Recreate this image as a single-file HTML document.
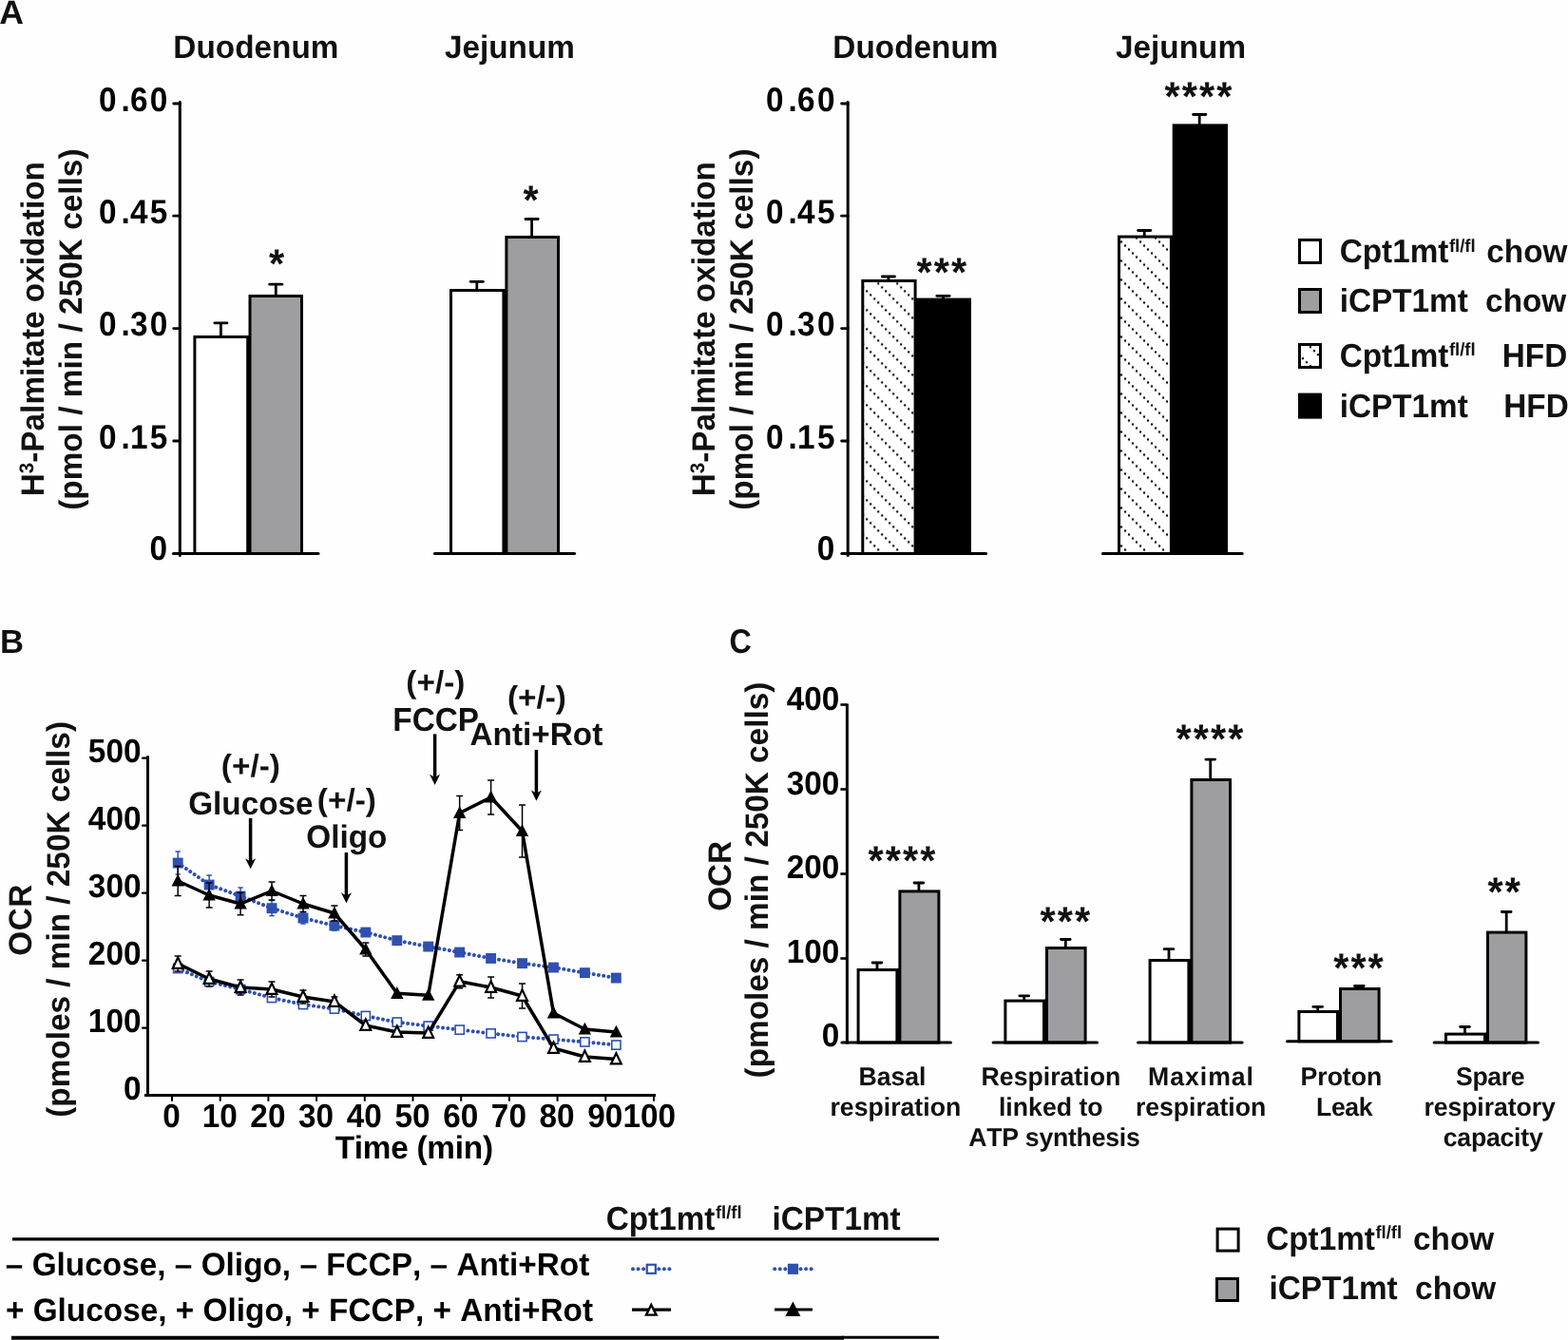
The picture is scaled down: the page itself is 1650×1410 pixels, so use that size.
<!DOCTYPE html>
<html lang="en"><head><meta charset="utf-8"><title>Figure</title>
<style>
html,body{margin:0;padding:0;background:#fefefe;}
body{width:1650px;height:1410px;overflow:hidden;}
svg{display:block;font-family:"Liberation Sans",sans-serif;font-weight:bold;font-kerning:none;font-variant-ligatures:none;text-rendering:geometricPrecision;}
</style></head><body>
<svg width="1650" height="1410" viewBox="0 0 1650 1410">
<rect width="1650" height="1410" fill="#fefefe"/>
<text transform="translate(-0.79 24.60) scale(1.07 1.06)" font-size="33.33" text-anchor="start" fill="#111" >A</text>
<text transform="translate(-0.12 687.00) scale(1.04 1.05)" font-size="33.33" text-anchor="start" fill="#111" >B</text>
<text transform="translate(767.57 687.10) scale(0.97 1.08)" font-size="33.33" text-anchor="start" fill="#111" >C</text>
<text transform="translate(182.37 61.00) scale(1 1.02)" font-size="33.33" text-anchor="start" fill="#111" >Duodenum</text>
<text transform="translate(467.90 61.00) scale(1 1.02)" font-size="33.33" text-anchor="start" fill="#111" >Jejunum</text>
<text transform="translate(876.37 61.00) scale(1 1.02)" font-size="33.33" text-anchor="start" fill="#111" >Duodenum</text>
<text transform="translate(1174.00 61.00) scale(1 1.02)" font-size="33.33" text-anchor="start" fill="#111" >Jejunum</text>
<rect x="204.90" y="354.50" width="55.80" height="228.00" fill="#fff" stroke="#000" stroke-width="3.0" stroke-linejoin="miter"/>
<rect x="263.00" y="311.50" width="54.50" height="271.00" fill="#9e9ea0" stroke="#000" stroke-width="3.0" stroke-linejoin="miter"/>
<rect x="474.50" y="305.50" width="55.40" height="277.00" fill="#fff" stroke="#000" stroke-width="3.0" stroke-linejoin="miter"/>
<rect x="532.90" y="249.50" width="54.60" height="333.00" fill="#9e9ea0" stroke="#000" stroke-width="3.0" stroke-linejoin="miter"/>
<line x1="262.20" y1="353.00" x2="262.20" y2="582.50" stroke="#000" stroke-width="1.2" stroke-linecap="butt" />
<line x1="531.40" y1="304.00" x2="531.40" y2="582.50" stroke="#000" stroke-width="1.2" stroke-linecap="butt" />
<line x1="232.40" y1="339.80" x2="232.40" y2="354.00" stroke="#000" stroke-width="2.8" stroke-linecap="butt" />
<line x1="225.80" y1="339.80" x2="239.00" y2="339.80" stroke="#000" stroke-width="2.8" stroke-linecap="round" />
<line x1="290.30" y1="299.20" x2="290.30" y2="311.00" stroke="#000" stroke-width="2.8" stroke-linecap="butt" />
<line x1="283.70" y1="299.20" x2="296.90" y2="299.20" stroke="#000" stroke-width="2.8" stroke-linecap="round" />
<line x1="501.80" y1="296.30" x2="501.80" y2="305.00" stroke="#000" stroke-width="2.8" stroke-linecap="butt" />
<line x1="495.20" y1="296.30" x2="508.40" y2="296.30" stroke="#000" stroke-width="2.8" stroke-linecap="round" />
<line x1="559.60" y1="230.50" x2="559.60" y2="249.00" stroke="#000" stroke-width="2.8" stroke-linecap="butt" />
<line x1="553.00" y1="230.50" x2="566.20" y2="230.50" stroke="#000" stroke-width="2.8" stroke-linecap="round" />
<line x1="189.30" y1="107.60" x2="189.30" y2="584.60" stroke="#000" stroke-width="3" stroke-linecap="round" />
<line x1="182.70" y1="109.00" x2="189.30" y2="109.00" stroke="#000" stroke-width="2.8" stroke-linecap="round" />
<line x1="182.70" y1="227.20" x2="189.30" y2="227.20" stroke="#000" stroke-width="2.8" stroke-linecap="round" />
<line x1="182.70" y1="345.60" x2="189.30" y2="345.60" stroke="#000" stroke-width="2.8" stroke-linecap="round" />
<line x1="182.70" y1="464.00" x2="189.30" y2="464.00" stroke="#000" stroke-width="2.8" stroke-linecap="round" />
<line x1="182.40" y1="582.50" x2="335.00" y2="582.50" stroke="#000" stroke-width="3" stroke-linecap="round" />
<line x1="457.40" y1="582.50" x2="604.60" y2="582.50" stroke="#000" stroke-width="3" stroke-linecap="round" />
<text transform="translate(103.88 116.60) scale(1 1.07)" font-size="33.33" text-anchor="start" fill="#000" dx="0 5 0.3 2.3">0.60</text>
<text transform="translate(103.88 234.80) scale(1 1.07)" font-size="33.33" text-anchor="start" fill="#000" dx="0 5 0.3 2.3">0.45</text>
<text transform="translate(103.88 353.20) scale(1 1.07)" font-size="33.33" text-anchor="start" fill="#000" dx="0 5 0.3 2.3">0.30</text>
<text transform="translate(103.88 471.60) scale(1 1.07)" font-size="33.33" text-anchor="start" fill="#000" dx="0 5 0.3 2.3">0.15</text>
<text transform="translate(176.17 589.40) scale(1 1.07)" font-size="33.33" text-anchor="end" fill="#000" >0</text>
<text transform="translate(46.00 522.23) rotate(-90) scale(1 1.02)" font-size="33.33" fill="#111" >H<tspan font-size="20.5" dy="-11.2">3</tspan><tspan dy="11.2">-Palmitate oxidation</tspan></text>
<text transform="translate(86.40 536.86) rotate(-90) scale(1 1.02)" font-size="33.33" fill="#111" letter-spacing="0.03">(pmol / min / 250K cells)</text>
<defs><pattern id="hat1" x="910.20" y="304.40" width="20" height="20" patternUnits="userSpaceOnUse"><g fill="#000"><circle cx="2" cy="2" r="1.2"/><circle cx="6" cy="6" r="1.2"/><circle cx="10" cy="10" r="1.2"/><circle cx="14" cy="14" r="1.2"/><circle cx="18" cy="18" r="1.2"/></g></pattern></defs>
<defs><pattern id="hat2" x="1182.03" y="256.50" width="20" height="20" patternUnits="userSpaceOnUse"><g fill="#000"><circle cx="2" cy="2" r="1.2"/><circle cx="6" cy="6" r="1.2"/><circle cx="10" cy="10" r="1.2"/><circle cx="14" cy="14" r="1.2"/><circle cx="18" cy="18" r="1.2"/></g></pattern></defs>
<rect x="907.80" y="295.50" width="55.30" height="287.00" fill="#fff"/>
<rect x="907.80" y="295.50" width="55.30" height="287.00" fill="url(#hat1)" stroke="#000" stroke-width="3.0"/>
<rect x="963.5" y="313.6" width="58.5" height="268.90" fill="#000"/>
<rect x="1177.50" y="249.10" width="54.90" height="333.40" fill="#fff"/>
<rect x="1177.50" y="249.10" width="54.90" height="333.40" fill="url(#hat2)" stroke="#000" stroke-width="3.0"/>
<rect x="1233.7" y="130.4" width="58.3" height="452.10" fill="#000"/>
<rect x="1232" y="249" width="3" height="333.50" fill="#000"/>
<line x1="934.90" y1="291.00" x2="934.90" y2="295.00" stroke="#000" stroke-width="2.8" stroke-linecap="butt" />
<line x1="928.30" y1="291.00" x2="941.50" y2="291.00" stroke="#000" stroke-width="2.8" stroke-linecap="round" />
<line x1="992.50" y1="311.30" x2="992.50" y2="314.50" stroke="#000" stroke-width="2.8" stroke-linecap="butt" />
<line x1="985.90" y1="311.30" x2="999.10" y2="311.30" stroke="#000" stroke-width="2.8" stroke-linecap="round" />
<line x1="1204.20" y1="242.50" x2="1204.20" y2="248.60" stroke="#000" stroke-width="2.8" stroke-linecap="butt" />
<line x1="1197.60" y1="242.50" x2="1210.80" y2="242.50" stroke="#000" stroke-width="2.8" stroke-linecap="round" />
<line x1="1262.20" y1="120.50" x2="1262.20" y2="131.40" stroke="#000" stroke-width="2.8" stroke-linecap="butt" />
<line x1="1255.60" y1="120.50" x2="1268.80" y2="120.50" stroke="#000" stroke-width="2.8" stroke-linecap="round" />
<line x1="892.20" y1="107.60" x2="892.20" y2="584.60" stroke="#000" stroke-width="3" stroke-linecap="round" />
<line x1="885.60" y1="109.00" x2="892.20" y2="109.00" stroke="#000" stroke-width="2.8" stroke-linecap="round" />
<line x1="885.60" y1="227.20" x2="892.20" y2="227.20" stroke="#000" stroke-width="2.8" stroke-linecap="round" />
<line x1="885.60" y1="345.60" x2="892.20" y2="345.60" stroke="#000" stroke-width="2.8" stroke-linecap="round" />
<line x1="885.60" y1="464.00" x2="892.20" y2="464.00" stroke="#000" stroke-width="2.8" stroke-linecap="round" />
<line x1="885.80" y1="582.50" x2="1037.60" y2="582.50" stroke="#000" stroke-width="3" stroke-linecap="round" />
<line x1="1160.40" y1="582.50" x2="1307.20" y2="582.50" stroke="#000" stroke-width="3" stroke-linecap="round" />
<text transform="translate(805.98 116.60) scale(1 1.07)" font-size="33.33" text-anchor="start" fill="#000" dx="0 5 0.3 2.3">0.60</text>
<text transform="translate(805.98 234.80) scale(1 1.07)" font-size="33.33" text-anchor="start" fill="#000" dx="0 5 0.3 2.3">0.45</text>
<text transform="translate(805.98 353.20) scale(1 1.07)" font-size="33.33" text-anchor="start" fill="#000" dx="0 5 0.3 2.3">0.30</text>
<text transform="translate(805.98 471.60) scale(1 1.07)" font-size="33.33" text-anchor="start" fill="#000" dx="0 5 0.3 2.3">0.15</text>
<text transform="translate(878.27 589.40) scale(1 1.07)" font-size="33.33" text-anchor="end" fill="#000" >0</text>
<text transform="translate(752.00 522.23) rotate(-90) scale(1 1.02)" font-size="33.33" fill="#111" >H<tspan font-size="20.5" dy="-11.2">3</tspan><tspan dy="11.2">-Palmitate oxidation</tspan></text>
<text transform="translate(791.60 536.86) rotate(-90) scale(1 1.02)" font-size="33.33" fill="#111" letter-spacing="0.03">(pmol / min / 250K cells)</text>
<text transform="translate(282.88 291.80) scale(1 1.036)" font-size="41.50" text-anchor="start" fill="#111" letter-spacing="2.05">*</text>
<text transform="translate(550.58 224.70) scale(1 1.036)" font-size="41.50" text-anchor="start" fill="#111" letter-spacing="2.05">*</text>
<text transform="translate(964.58 300.70) scale(1 1.036)" font-size="41.50" text-anchor="start" fill="#111" letter-spacing="2.05">***</text>
<text transform="translate(1225.58 115.70) scale(1 1.036)" font-size="41.50" text-anchor="start" fill="#111" letter-spacing="2.05">****</text>
<rect x="1367.50" y="252.50" width="22.00" height="24.00" fill="#fff" stroke="#000" stroke-width="3"/>
<rect x="1367.50" y="304.50" width="22.00" height="24.00" fill="#9e9ea0" stroke="#000" stroke-width="3"/>
<rect x="1367.40" y="362.50" width="22.00" height="24.00" fill="#fff" stroke="#000" stroke-width="2.8"/>
<defs><pattern id="hat3" x="1376.90" y="363.20" width="20" height="20" patternUnits="userSpaceOnUse"><g fill="#000"><circle cx="2" cy="2" r="1.2"/><circle cx="6" cy="6" r="1.2"/><circle cx="10" cy="10" r="1.2"/><circle cx="14" cy="14" r="1.2"/><circle cx="18" cy="18" r="1.2"/></g></pattern></defs>
<rect x="1367.4" y="362.5" width="22" height="24" fill="url(#hat3)" stroke="#000" stroke-width="2.8"/>
<rect x="1366" y="413.6" width="25" height="27" fill="#000"/>
<text transform="translate(1409.63 276.40) scale(1 1.04)" font-size="33.33" text-anchor="start" fill="#111" >Cpt1mt</text>
<text transform="translate(1524.88 264.80) scale(1 1.02)" font-size="18.50" text-anchor="start" fill="#111" >fl/fl</text>
<text transform="translate(1564.30 276.40) scale(1 1.02)" font-size="33.33" text-anchor="start" fill="#111" >chow</text>
<text transform="translate(1409.67 328.40) scale(1 1.04)" font-size="33.33" text-anchor="start" fill="#111" >iCPT1mt</text>
<text transform="translate(1563.10 328.40) scale(1 1.02)" font-size="33.33" text-anchor="start" fill="#111" >chow</text>
<text transform="translate(1409.63 386.00) scale(1 1.04)" font-size="33.33" text-anchor="start" fill="#111" >Cpt1mt</text>
<text transform="translate(1524.88 374.40) scale(1 1.02)" font-size="18.50" text-anchor="start" fill="#111" >fl/fl</text>
<text transform="translate(1580.77 386.00) scale(1 1.045)" font-size="33.33" text-anchor="start" fill="#111" >HFD</text>
<text transform="translate(1409.67 439.00) scale(1 1.04)" font-size="33.33" text-anchor="start" fill="#111" >iCPT1mt</text>
<text transform="translate(1582.27 439.00) scale(1 1.045)" font-size="33.33" text-anchor="start" fill="#111" >HFD</text>
<line x1="155.50" y1="795.20" x2="155.50" y2="1154.00" stroke="#000" stroke-width="3" stroke-linecap="butt" />
<line x1="150.00" y1="1081.70" x2="155.50" y2="1081.70" stroke="#000" stroke-width="2.2" stroke-linecap="round" />
<line x1="150.00" y1="1010.70" x2="155.50" y2="1010.70" stroke="#000" stroke-width="2.2" stroke-linecap="round" />
<line x1="150.00" y1="939.70" x2="155.50" y2="939.70" stroke="#000" stroke-width="2.2" stroke-linecap="round" />
<line x1="150.00" y1="868.70" x2="155.50" y2="868.70" stroke="#000" stroke-width="2.2" stroke-linecap="round" />
<line x1="150.00" y1="797.70" x2="155.50" y2="797.70" stroke="#000" stroke-width="2.2" stroke-linecap="round" />
<line x1="152.00" y1="1152.50" x2="690.00" y2="1152.50" stroke="#000" stroke-width="3" stroke-linecap="butt" />
<line x1="181.00" y1="1153.00" x2="181.00" y2="1158.80" stroke="#000" stroke-width="2.0" stroke-linecap="butt" />
<line x1="231.70" y1="1153.00" x2="231.70" y2="1158.80" stroke="#000" stroke-width="2.0" stroke-linecap="butt" />
<line x1="282.40" y1="1153.00" x2="282.40" y2="1158.80" stroke="#000" stroke-width="2.0" stroke-linecap="butt" />
<line x1="333.10" y1="1153.00" x2="333.10" y2="1158.80" stroke="#000" stroke-width="2.0" stroke-linecap="butt" />
<line x1="383.80" y1="1153.00" x2="383.80" y2="1158.80" stroke="#000" stroke-width="2.0" stroke-linecap="butt" />
<line x1="434.50" y1="1153.00" x2="434.50" y2="1158.80" stroke="#000" stroke-width="2.0" stroke-linecap="butt" />
<line x1="485.20" y1="1153.00" x2="485.20" y2="1158.80" stroke="#000" stroke-width="2.0" stroke-linecap="butt" />
<line x1="535.90" y1="1153.00" x2="535.90" y2="1158.80" stroke="#000" stroke-width="2.0" stroke-linecap="butt" />
<line x1="586.60" y1="1153.00" x2="586.60" y2="1158.80" stroke="#000" stroke-width="2.0" stroke-linecap="butt" />
<line x1="637.30" y1="1153.00" x2="637.30" y2="1158.80" stroke="#000" stroke-width="2.0" stroke-linecap="butt" />
<line x1="688.00" y1="1153.00" x2="688.00" y2="1158.80" stroke="#000" stroke-width="2.0" stroke-linecap="butt" />
<text transform="translate(148.47 1086.20) scale(1 1.045)" font-size="33.33" text-anchor="end" fill="#000" >100</text>
<text transform="translate(148.47 1015.20) scale(1 1.045)" font-size="33.33" text-anchor="end" fill="#000" >200</text>
<text transform="translate(148.47 944.20) scale(1 1.045)" font-size="33.33" text-anchor="end" fill="#000" >300</text>
<text transform="translate(148.47 873.20) scale(1 1.045)" font-size="33.33" text-anchor="end" fill="#000" >400</text>
<text transform="translate(148.47 802.20) scale(1 1.045)" font-size="33.33" text-anchor="end" fill="#000" >500</text>
<text transform="translate(148.57 1156.90) scale(1 1.045)" font-size="33.33" text-anchor="end" fill="#000" >0</text>
<text transform="translate(180.50 1186.00) scale(1 1.045)" font-size="33.33" text-anchor="middle" fill="#000" >0</text>
<text transform="translate(231.20 1186.00) scale(1 1.045)" font-size="33.33" text-anchor="middle" fill="#000" >10</text>
<text transform="translate(281.90 1186.00) scale(1 1.045)" font-size="33.33" text-anchor="middle" fill="#000" >20</text>
<text transform="translate(332.60 1186.00) scale(1 1.045)" font-size="33.33" text-anchor="middle" fill="#000" >30</text>
<text transform="translate(383.30 1186.00) scale(1 1.045)" font-size="33.33" text-anchor="middle" fill="#000" >40</text>
<text transform="translate(434.00 1186.00) scale(1 1.045)" font-size="33.33" text-anchor="middle" fill="#000" >50</text>
<text transform="translate(484.70 1186.00) scale(1 1.045)" font-size="33.33" text-anchor="middle" fill="#000" >60</text>
<text transform="translate(535.40 1186.00) scale(1 1.045)" font-size="33.33" text-anchor="middle" fill="#000" >70</text>
<text transform="translate(586.10 1186.00) scale(1 1.045)" font-size="33.33" text-anchor="middle" fill="#000" >80</text>
<text transform="translate(636.80 1186.00) scale(1 1.045)" font-size="33.33" text-anchor="middle" fill="#000" >90</text>
<text transform="translate(655.50 1186.00) scale(1 1.045)" font-size="33.33" text-anchor="start" fill="#000" >100</text>
<text transform="translate(352.63 1219.00) scale(1 1.02)" font-size="33.33" text-anchor="start" fill="#000" textLength="166.4" lengthAdjust="spacing">Time (min)</text>
<text transform="translate(33.00 1005.87) rotate(-90) scale(1 1.02)" font-size="33.33" fill="#111" letter-spacing="0.6">OCR</text>
<text transform="translate(73.40 1175.76) rotate(-90) scale(1 1.02)" font-size="33.33" fill="#111" >(pmoles / min / 250K cells)</text>
<polyline points="187.2,1019.0 220.1,1033.0 253.1,1041.0 286.0,1050.0 319.0,1057.0 351.9,1061.6 384.8,1069.0 417.8,1075.6 450.7,1079.6 483.7,1083.6 516.6,1087.4 549.5,1091.0 582.5,1093.6 615.4,1096.4 648.4,1099.6" fill="none" stroke="#2f50b0" stroke-width="4" stroke-linecap="round" stroke-dasharray="0.01 5.3"/>
<rect x="182.6" y="1014.4" width="9.2" height="9.2" fill="#fff" stroke="#2f50b0" stroke-width="1.6"/>
<rect x="215.5" y="1028.4" width="9.2" height="9.2" fill="#fff" stroke="#2f50b0" stroke-width="1.6"/>
<rect x="248.5" y="1036.4" width="9.2" height="9.2" fill="#fff" stroke="#2f50b0" stroke-width="1.6"/>
<rect x="281.4" y="1045.4" width="9.2" height="9.2" fill="#fff" stroke="#2f50b0" stroke-width="1.6"/>
<rect x="314.4" y="1052.4" width="9.2" height="9.2" fill="#fff" stroke="#2f50b0" stroke-width="1.6"/>
<rect x="347.3" y="1057.0" width="9.2" height="9.2" fill="#fff" stroke="#2f50b0" stroke-width="1.6"/>
<rect x="380.2" y="1064.4" width="9.2" height="9.2" fill="#fff" stroke="#2f50b0" stroke-width="1.6"/>
<rect x="413.2" y="1071.0" width="9.2" height="9.2" fill="#fff" stroke="#2f50b0" stroke-width="1.6"/>
<rect x="446.1" y="1075.0" width="9.2" height="9.2" fill="#fff" stroke="#2f50b0" stroke-width="1.6"/>
<rect x="479.1" y="1079.0" width="9.2" height="9.2" fill="#fff" stroke="#2f50b0" stroke-width="1.6"/>
<rect x="512.0" y="1082.8" width="9.2" height="9.2" fill="#fff" stroke="#2f50b0" stroke-width="1.6"/>
<rect x="544.9" y="1086.4" width="9.2" height="9.2" fill="#fff" stroke="#2f50b0" stroke-width="1.6"/>
<rect x="577.9" y="1089.0" width="9.2" height="9.2" fill="#fff" stroke="#2f50b0" stroke-width="1.6"/>
<rect x="610.8" y="1091.8" width="9.2" height="9.2" fill="#fff" stroke="#2f50b0" stroke-width="1.6"/>
<rect x="643.8" y="1095.0" width="9.2" height="9.2" fill="#fff" stroke="#2f50b0" stroke-width="1.6"/>
<polyline points="187.2,908.0 220.1,931.0 253.1,943.0 286.0,955.6 319.0,966.0 351.9,974.0 384.8,981.0 417.8,989.6 450.7,996.0 483.7,1002.0 516.6,1008.4 549.5,1013.6 582.5,1018.0 615.4,1023.6 648.4,1029.0" fill="none" stroke="#2f50b0" stroke-width="4" stroke-linecap="round" stroke-dasharray="0.01 5.3"/>
<line x1="187.20" y1="896.00" x2="187.20" y2="920.00" stroke="#2f50b0" stroke-width="1.5" stroke-linecap="butt" />
<line x1="184.50" y1="896.00" x2="189.90" y2="896.00" stroke="#2f50b0" stroke-width="1.5" stroke-linecap="butt" />
<line x1="184.50" y1="920.00" x2="189.90" y2="920.00" stroke="#2f50b0" stroke-width="1.5" stroke-linecap="butt" />
<rect x="181.75" y="902.60" width="10.9" height="10.9" fill="#2f50b0"/>
<line x1="220.14" y1="921.00" x2="220.14" y2="941.00" stroke="#2f50b0" stroke-width="1.5" stroke-linecap="butt" />
<line x1="217.44" y1="921.00" x2="222.84" y2="921.00" stroke="#2f50b0" stroke-width="1.5" stroke-linecap="butt" />
<line x1="217.44" y1="941.00" x2="222.84" y2="941.00" stroke="#2f50b0" stroke-width="1.5" stroke-linecap="butt" />
<rect x="214.69" y="925.60" width="10.9" height="10.9" fill="#2f50b0"/>
<line x1="253.08" y1="934.00" x2="253.08" y2="952.00" stroke="#2f50b0" stroke-width="1.5" stroke-linecap="butt" />
<line x1="250.38" y1="934.00" x2="255.78" y2="934.00" stroke="#2f50b0" stroke-width="1.5" stroke-linecap="butt" />
<line x1="250.38" y1="952.00" x2="255.78" y2="952.00" stroke="#2f50b0" stroke-width="1.5" stroke-linecap="butt" />
<rect x="247.63" y="937.60" width="10.9" height="10.9" fill="#2f50b0"/>
<line x1="286.02" y1="947.60" x2="286.02" y2="963.60" stroke="#2f50b0" stroke-width="1.5" stroke-linecap="butt" />
<line x1="283.32" y1="947.60" x2="288.72" y2="947.60" stroke="#2f50b0" stroke-width="1.5" stroke-linecap="butt" />
<line x1="283.32" y1="963.60" x2="288.72" y2="963.60" stroke="#2f50b0" stroke-width="1.5" stroke-linecap="butt" />
<rect x="280.57" y="950.20" width="10.9" height="10.9" fill="#2f50b0"/>
<line x1="318.96" y1="960.00" x2="318.96" y2="972.00" stroke="#2f50b0" stroke-width="1.5" stroke-linecap="butt" />
<line x1="316.26" y1="960.00" x2="321.66" y2="960.00" stroke="#2f50b0" stroke-width="1.5" stroke-linecap="butt" />
<line x1="316.26" y1="972.00" x2="321.66" y2="972.00" stroke="#2f50b0" stroke-width="1.5" stroke-linecap="butt" />
<rect x="313.51" y="960.60" width="10.9" height="10.9" fill="#2f50b0"/>
<line x1="351.90" y1="969.00" x2="351.90" y2="979.00" stroke="#2f50b0" stroke-width="1.5" stroke-linecap="butt" />
<line x1="349.20" y1="969.00" x2="354.60" y2="969.00" stroke="#2f50b0" stroke-width="1.5" stroke-linecap="butt" />
<line x1="349.20" y1="979.00" x2="354.60" y2="979.00" stroke="#2f50b0" stroke-width="1.5" stroke-linecap="butt" />
<rect x="346.45" y="968.60" width="10.9" height="10.9" fill="#2f50b0"/>
<line x1="384.84" y1="978.00" x2="384.84" y2="984.00" stroke="#2f50b0" stroke-width="1.5" stroke-linecap="butt" />
<line x1="382.14" y1="978.00" x2="387.54" y2="978.00" stroke="#2f50b0" stroke-width="1.5" stroke-linecap="butt" />
<line x1="382.14" y1="984.00" x2="387.54" y2="984.00" stroke="#2f50b0" stroke-width="1.5" stroke-linecap="butt" />
<rect x="379.39" y="975.60" width="10.9" height="10.9" fill="#2f50b0"/>
<rect x="412.33" y="984.20" width="10.9" height="10.9" fill="#2f50b0"/>
<rect x="445.27" y="990.60" width="10.9" height="10.9" fill="#2f50b0"/>
<rect x="478.21" y="996.60" width="10.9" height="10.9" fill="#2f50b0"/>
<rect x="511.15" y="1003.00" width="10.9" height="10.9" fill="#2f50b0"/>
<rect x="544.09" y="1008.20" width="10.9" height="10.9" fill="#2f50b0"/>
<rect x="577.03" y="1012.60" width="10.9" height="10.9" fill="#2f50b0"/>
<rect x="609.97" y="1018.20" width="10.9" height="10.9" fill="#2f50b0"/>
<rect x="642.91" y="1023.60" width="10.9" height="10.9" fill="#2f50b0"/>
<line x1="187.20" y1="1006.00" x2="187.20" y2="1022.00" stroke="#000" stroke-width="1.5" stroke-linecap="butt" />
<line x1="183.70" y1="1006.00" x2="190.70" y2="1006.00" stroke="#000" stroke-width="1.5" stroke-linecap="butt" />
<line x1="183.70" y1="1022.00" x2="190.70" y2="1022.00" stroke="#000" stroke-width="1.5" stroke-linecap="butt" />
<line x1="220.14" y1="1022.00" x2="220.14" y2="1038.00" stroke="#000" stroke-width="1.5" stroke-linecap="butt" />
<line x1="216.64" y1="1022.00" x2="223.64" y2="1022.00" stroke="#000" stroke-width="1.5" stroke-linecap="butt" />
<line x1="216.64" y1="1038.00" x2="223.64" y2="1038.00" stroke="#000" stroke-width="1.5" stroke-linecap="butt" />
<line x1="253.08" y1="1031.00" x2="253.08" y2="1047.00" stroke="#000" stroke-width="1.5" stroke-linecap="butt" />
<line x1="249.58" y1="1031.00" x2="256.58" y2="1031.00" stroke="#000" stroke-width="1.5" stroke-linecap="butt" />
<line x1="249.58" y1="1047.00" x2="256.58" y2="1047.00" stroke="#000" stroke-width="1.5" stroke-linecap="butt" />
<line x1="286.02" y1="1033.00" x2="286.02" y2="1049.00" stroke="#000" stroke-width="1.5" stroke-linecap="butt" />
<line x1="282.52" y1="1033.00" x2="289.52" y2="1033.00" stroke="#000" stroke-width="1.5" stroke-linecap="butt" />
<line x1="282.52" y1="1049.00" x2="289.52" y2="1049.00" stroke="#000" stroke-width="1.5" stroke-linecap="butt" />
<line x1="318.96" y1="1042.00" x2="318.96" y2="1056.00" stroke="#000" stroke-width="1.5" stroke-linecap="butt" />
<line x1="315.46" y1="1042.00" x2="322.46" y2="1042.00" stroke="#000" stroke-width="1.5" stroke-linecap="butt" />
<line x1="315.46" y1="1056.00" x2="322.46" y2="1056.00" stroke="#000" stroke-width="1.5" stroke-linecap="butt" />
<line x1="351.90" y1="1049.00" x2="351.90" y2="1059.00" stroke="#000" stroke-width="1.5" stroke-linecap="butt" />
<line x1="348.40" y1="1049.00" x2="355.40" y2="1049.00" stroke="#000" stroke-width="1.5" stroke-linecap="butt" />
<line x1="348.40" y1="1059.00" x2="355.40" y2="1059.00" stroke="#000" stroke-width="1.5" stroke-linecap="butt" />
<line x1="483.66" y1="1025.80" x2="483.66" y2="1039.80" stroke="#000" stroke-width="1.5" stroke-linecap="butt" />
<line x1="480.16" y1="1025.80" x2="487.16" y2="1025.80" stroke="#000" stroke-width="1.5" stroke-linecap="butt" />
<line x1="480.16" y1="1039.80" x2="487.16" y2="1039.80" stroke="#000" stroke-width="1.5" stroke-linecap="butt" />
<line x1="516.60" y1="1028.00" x2="516.60" y2="1050.00" stroke="#000" stroke-width="1.5" stroke-linecap="butt" />
<line x1="513.10" y1="1028.00" x2="520.10" y2="1028.00" stroke="#000" stroke-width="1.5" stroke-linecap="butt" />
<line x1="513.10" y1="1050.00" x2="520.10" y2="1050.00" stroke="#000" stroke-width="1.5" stroke-linecap="butt" />
<line x1="549.54" y1="1035.00" x2="549.54" y2="1061.00" stroke="#000" stroke-width="1.5" stroke-linecap="butt" />
<line x1="546.04" y1="1035.00" x2="553.04" y2="1035.00" stroke="#000" stroke-width="1.5" stroke-linecap="butt" />
<line x1="546.04" y1="1061.00" x2="553.04" y2="1061.00" stroke="#000" stroke-width="1.5" stroke-linecap="butt" />
<polyline points="187.2,1014.0 220.1,1030.0 253.1,1039.0 286.0,1041.0 319.0,1049.0 351.9,1054.0 384.8,1079.0 417.8,1086.0 450.7,1087.0 483.7,1032.8 516.6,1039.0 549.5,1048.0 582.5,1103.0 615.4,1112.0 648.4,1114.6" fill="none" stroke="#000" stroke-width="3.5" stroke-linejoin="round"/>
<path d="M187.2 1007.6 L192.6 1018.8 L181.8 1018.8 Z" fill="#fff" stroke="#000" stroke-width="2.2" stroke-linejoin="miter"/>
<path d="M220.1 1023.6 L225.5 1034.8 L214.7 1034.8 Z" fill="#fff" stroke="#000" stroke-width="2.2" stroke-linejoin="miter"/>
<path d="M253.1 1032.6 L258.5 1043.8 L247.7 1043.8 Z" fill="#fff" stroke="#000" stroke-width="2.2" stroke-linejoin="miter"/>
<path d="M286.0 1034.6 L291.4 1045.8 L280.6 1045.8 Z" fill="#fff" stroke="#000" stroke-width="2.2" stroke-linejoin="miter"/>
<path d="M319.0 1042.6 L324.4 1053.8 L313.6 1053.8 Z" fill="#fff" stroke="#000" stroke-width="2.2" stroke-linejoin="miter"/>
<path d="M351.9 1047.6 L357.3 1058.8 L346.5 1058.8 Z" fill="#fff" stroke="#000" stroke-width="2.2" stroke-linejoin="miter"/>
<path d="M384.8 1072.6 L390.2 1083.8 L379.4 1083.8 Z" fill="#fff" stroke="#000" stroke-width="2.2" stroke-linejoin="miter"/>
<path d="M417.8 1079.6 L423.2 1090.8 L412.4 1090.8 Z" fill="#fff" stroke="#000" stroke-width="2.2" stroke-linejoin="miter"/>
<path d="M450.7 1080.6 L456.1 1091.8 L445.3 1091.8 Z" fill="#fff" stroke="#000" stroke-width="2.2" stroke-linejoin="miter"/>
<path d="M483.7 1026.4 L489.1 1037.6 L478.3 1037.6 Z" fill="#fff" stroke="#000" stroke-width="2.2" stroke-linejoin="miter"/>
<path d="M516.6 1032.6 L522.0 1043.8 L511.2 1043.8 Z" fill="#fff" stroke="#000" stroke-width="2.2" stroke-linejoin="miter"/>
<path d="M549.5 1041.6 L554.9 1052.8 L544.1 1052.8 Z" fill="#fff" stroke="#000" stroke-width="2.2" stroke-linejoin="miter"/>
<path d="M582.5 1096.6 L587.9 1107.8 L577.1 1107.8 Z" fill="#fff" stroke="#000" stroke-width="2.2" stroke-linejoin="miter"/>
<path d="M615.4 1105.6 L620.8 1116.8 L610.0 1116.8 Z" fill="#fff" stroke="#000" stroke-width="2.2" stroke-linejoin="miter"/>
<path d="M648.4 1108.2 L653.8 1119.4 L643.0 1119.4 Z" fill="#fff" stroke="#000" stroke-width="2.2" stroke-linejoin="miter"/>
<line x1="187.20" y1="911.50" x2="187.20" y2="942.50" stroke="#000" stroke-width="1.5" stroke-linecap="butt" />
<line x1="183.70" y1="911.50" x2="190.70" y2="911.50" stroke="#000" stroke-width="1.5" stroke-linecap="butt" />
<line x1="183.70" y1="942.50" x2="190.70" y2="942.50" stroke="#000" stroke-width="1.5" stroke-linecap="butt" />
<line x1="220.14" y1="929.00" x2="220.14" y2="955.00" stroke="#000" stroke-width="1.5" stroke-linecap="butt" />
<line x1="216.64" y1="929.00" x2="223.64" y2="929.00" stroke="#000" stroke-width="1.5" stroke-linecap="butt" />
<line x1="216.64" y1="955.00" x2="223.64" y2="955.00" stroke="#000" stroke-width="1.5" stroke-linecap="butt" />
<line x1="253.08" y1="939.30" x2="253.08" y2="962.70" stroke="#000" stroke-width="1.5" stroke-linecap="butt" />
<line x1="249.58" y1="939.30" x2="256.58" y2="939.30" stroke="#000" stroke-width="1.5" stroke-linecap="butt" />
<line x1="249.58" y1="962.70" x2="256.58" y2="962.70" stroke="#000" stroke-width="1.5" stroke-linecap="butt" />
<line x1="286.02" y1="928.00" x2="286.02" y2="947.00" stroke="#000" stroke-width="1.5" stroke-linecap="butt" />
<line x1="282.52" y1="928.00" x2="289.52" y2="928.00" stroke="#000" stroke-width="1.5" stroke-linecap="butt" />
<line x1="282.52" y1="947.00" x2="289.52" y2="947.00" stroke="#000" stroke-width="1.5" stroke-linecap="butt" />
<line x1="318.96" y1="942.50" x2="318.96" y2="959.50" stroke="#000" stroke-width="1.5" stroke-linecap="butt" />
<line x1="315.46" y1="942.50" x2="322.46" y2="942.50" stroke="#000" stroke-width="1.5" stroke-linecap="butt" />
<line x1="315.46" y1="959.50" x2="322.46" y2="959.50" stroke="#000" stroke-width="1.5" stroke-linecap="butt" />
<line x1="351.90" y1="953.00" x2="351.90" y2="969.00" stroke="#000" stroke-width="1.5" stroke-linecap="butt" />
<line x1="348.40" y1="953.00" x2="355.40" y2="953.00" stroke="#000" stroke-width="1.5" stroke-linecap="butt" />
<line x1="348.40" y1="969.00" x2="355.40" y2="969.00" stroke="#000" stroke-width="1.5" stroke-linecap="butt" />
<line x1="384.84" y1="992.00" x2="384.84" y2="1006.00" stroke="#000" stroke-width="1.5" stroke-linecap="butt" />
<line x1="381.34" y1="992.00" x2="388.34" y2="992.00" stroke="#000" stroke-width="1.5" stroke-linecap="butt" />
<line x1="381.34" y1="1006.00" x2="388.34" y2="1006.00" stroke="#000" stroke-width="1.5" stroke-linecap="butt" />
<line x1="483.66" y1="837.50" x2="483.66" y2="873.50" stroke="#000" stroke-width="1.5" stroke-linecap="butt" />
<line x1="480.16" y1="837.50" x2="487.16" y2="837.50" stroke="#000" stroke-width="1.5" stroke-linecap="butt" />
<line x1="480.16" y1="873.50" x2="487.16" y2="873.50" stroke="#000" stroke-width="1.5" stroke-linecap="butt" />
<line x1="516.60" y1="821.00" x2="516.60" y2="857.00" stroke="#000" stroke-width="1.5" stroke-linecap="butt" />
<line x1="513.10" y1="821.00" x2="520.10" y2="821.00" stroke="#000" stroke-width="1.5" stroke-linecap="butt" />
<line x1="513.10" y1="857.00" x2="520.10" y2="857.00" stroke="#000" stroke-width="1.5" stroke-linecap="butt" />
<line x1="549.54" y1="847.00" x2="549.54" y2="902.00" stroke="#000" stroke-width="1.5" stroke-linecap="butt" />
<line x1="546.04" y1="847.00" x2="553.04" y2="847.00" stroke="#000" stroke-width="1.5" stroke-linecap="butt" />
<line x1="546.04" y1="902.00" x2="553.04" y2="902.00" stroke="#000" stroke-width="1.5" stroke-linecap="butt" />
<polyline points="187.2,927.0 220.1,942.0 253.1,951.0 286.0,937.5 319.0,951.0 351.9,961.0 384.8,999.0 417.8,1045.3 450.7,1047.2 483.7,855.5 516.6,839.0 549.5,874.5 582.5,1066.0 615.4,1083.0 648.4,1086.0" fill="none" stroke="#000" stroke-width="3.5" stroke-linejoin="round"/>
<path d="M187.2 919.7 L193.9 932.6 L180.5 932.6 Z" fill="#000"/>
<path d="M220.1 934.7 L226.8 947.6 L213.4 947.6 Z" fill="#000"/>
<path d="M253.1 943.7 L259.8 956.6 L246.4 956.6 Z" fill="#000"/>
<path d="M286.0 930.2 L292.7 943.1 L279.3 943.1 Z" fill="#000"/>
<path d="M319.0 943.7 L325.7 956.6 L312.3 956.6 Z" fill="#000"/>
<path d="M351.9 953.7 L358.6 966.6 L345.2 966.6 Z" fill="#000"/>
<path d="M384.8 991.7 L391.5 1004.6 L378.1 1004.6 Z" fill="#000"/>
<path d="M417.8 1038.0 L424.5 1050.9 L411.1 1050.9 Z" fill="#000"/>
<path d="M450.7 1039.9 L457.4 1052.8 L444.0 1052.8 Z" fill="#000"/>
<path d="M483.7 848.2 L490.4 861.1 L477.0 861.1 Z" fill="#000"/>
<path d="M516.6 831.7 L523.3 844.6 L509.9 844.6 Z" fill="#000"/>
<path d="M549.5 867.2 L556.2 880.1 L542.8 880.1 Z" fill="#000"/>
<path d="M582.5 1058.7 L589.2 1071.6 L575.8 1071.6 Z" fill="#000"/>
<path d="M615.4 1075.7 L622.1 1088.6 L608.7 1088.6 Z" fill="#000"/>
<path d="M648.4 1078.7 L655.1 1091.6 L641.7 1091.6 Z" fill="#000"/>
<text transform="translate(232.84 817.30) scale(1 0.99)" font-size="33.33" text-anchor="start" fill="#111" >(+/-)</text>
<text transform="translate(198.13 856.70) scale(1 1.02)" font-size="33.33" text-anchor="start" fill="#111" >Glucose</text>
<line x1="263.60" y1="861.00" x2="263.60" y2="909.00" stroke="#000" stroke-width="3.5" stroke-linecap="butt" />
<path d="M258.1 903.2 L263.6 906.4 L269.1 903.2 L263.6 914.3 Z" fill="#000"/>
<text transform="translate(333.84 853.00) scale(1 0.99)" font-size="33.33" text-anchor="start" fill="#111" >(+/-)</text>
<text transform="translate(322.23 892.40) scale(1 1.02)" font-size="33.33" text-anchor="start" fill="#111" >Oligo</text>
<line x1="364.40" y1="897.00" x2="364.40" y2="945.00" stroke="#000" stroke-width="3.5" stroke-linecap="butt" />
<path d="M358.9 939.2 L364.4 942.4 L369.9 939.2 L364.4 950.3 Z" fill="#000"/>
<text transform="translate(427.34 729.00) scale(1 0.99)" font-size="33.33" text-anchor="start" fill="#111" >(+/-)</text>
<text transform="translate(413.37 769.00) scale(1 1.045)" font-size="33.33" text-anchor="start" fill="#111" >FCCP</text>
<line x1="457.60" y1="772.40" x2="457.60" y2="820.60" stroke="#000" stroke-width="3.5" stroke-linecap="butt" />
<path d="M452.1 814.8 L457.6 818.0 L463.1 814.8 L457.6 825.9 Z" fill="#000"/>
<text transform="translate(533.94 744.60) scale(1 0.99)" font-size="33.33" text-anchor="start" fill="#111" >(+/-)</text>
<text transform="translate(494.47 784.40) scale(1 1.02)" font-size="33.33" text-anchor="start" fill="#111" >Anti+Rot</text>
<line x1="564.40" y1="789.00" x2="564.40" y2="837.40" stroke="#000" stroke-width="3.5" stroke-linecap="butt" />
<path d="M558.9 831.6 L564.4 834.8 L569.9 831.6 L564.4 842.7 Z" fill="#000"/>
<line x1="13.00" y1="1303.80" x2="988.00" y2="1303.80" stroke="#000" stroke-width="3.3" stroke-linecap="butt" />
<line x1="12.00" y1="1407.70" x2="888.00" y2="1407.70" stroke="#000" stroke-width="3.9" stroke-linecap="butt" />
<line x1="886.00" y1="1407.20" x2="988.00" y2="1407.20" stroke="#000" stroke-width="3.1" stroke-linecap="butt" />
<text transform="translate(637.63 1293.60) scale(1 1.04)" font-size="33.33" text-anchor="start" fill="#111" >Cpt1mt</text>
<text transform="translate(752.88 1282.00) scale(1 1.02)" font-size="18.50" text-anchor="start" fill="#111" >fl/fl</text>
<text transform="translate(812.47 1293.60) scale(1 1.04)" font-size="33.33" text-anchor="start" fill="#111" >iCPT1mt</text>
<text transform="translate(5.83 1342.00) scale(1 1.02)" font-size="33.33" text-anchor="start" fill="#000" letter-spacing="0.015">– Glucose, – Oligo, – FCCP, – Anti+Rot</text>
<text transform="translate(5.90 1390.40) scale(1 1.02)" font-size="33.33" text-anchor="start" fill="#000" letter-spacing="0.015">+ Glucose, + Oligo, + FCCP, + Anti+Rot</text>
<circle cx="666.0" cy="1335.3" r="2.0" fill="#2f50b0"/>
<circle cx="671.6" cy="1335.3" r="2.0" fill="#2f50b0"/>
<circle cx="677.1" cy="1335.3" r="2.0" fill="#2f50b0"/>
<circle cx="693.3" cy="1335.3" r="2.0" fill="#2f50b0"/>
<circle cx="698.9" cy="1335.3" r="2.0" fill="#2f50b0"/>
<circle cx="704.4" cy="1335.3" r="2.0" fill="#2f50b0"/>
<rect x="680.75" y="1330.75" width="9.1" height="9.1" fill="#fff" stroke="#2f50b0" stroke-width="2.2"/>
<circle cx="815.2" cy="1335.3" r="2.0" fill="#2f50b0"/>
<circle cx="820.8" cy="1335.3" r="2.0" fill="#2f50b0"/>
<circle cx="826.3" cy="1335.3" r="2.0" fill="#2f50b0"/>
<circle cx="842.5" cy="1335.3" r="2.0" fill="#2f50b0"/>
<circle cx="848.1" cy="1335.3" r="2.0" fill="#2f50b0"/>
<circle cx="853.6" cy="1335.3" r="2.0" fill="#2f50b0"/>
<rect x="828.9" y="1329.7" width="11.2" height="11.2" fill="#2f50b0"/>
<line x1="665.00" y1="1378.20" x2="706.00" y2="1378.20" stroke="#000" stroke-width="3.2" stroke-linecap="butt" />
<line x1="815.00" y1="1378.00" x2="855.00" y2="1378.00" stroke="#000" stroke-width="3.2" stroke-linecap="butt" />
<path d="M685.3 1373 L690.6 1383.6 L680 1383.6 Z" fill="#fff" stroke="#000" stroke-width="2.4"/>
<path d="M834.4 1369.5 L842.4 1385 L826.4 1385 Z" fill="#000"/>
<line x1="891.40" y1="740.50" x2="891.40" y2="1098.50" stroke="#000" stroke-width="3" stroke-linecap="butt" />
<line x1="884.40" y1="1008.50" x2="891.40" y2="1008.50" stroke="#000" stroke-width="2.6" stroke-linecap="butt" />
<line x1="884.40" y1="919.50" x2="891.40" y2="919.50" stroke="#000" stroke-width="2.6" stroke-linecap="butt" />
<line x1="884.40" y1="830.50" x2="891.40" y2="830.50" stroke="#000" stroke-width="2.6" stroke-linecap="butt" />
<line x1="884.40" y1="741.50" x2="891.40" y2="741.50" stroke="#000" stroke-width="2.6" stroke-linecap="butt" />
<text transform="translate(883.37 1013.30) scale(1 1.045)" font-size="33.33" text-anchor="end" fill="#000" >100</text>
<text transform="translate(883.37 924.43) scale(1 1.045)" font-size="33.33" text-anchor="end" fill="#000" >200</text>
<text transform="translate(883.37 835.56) scale(1 1.045)" font-size="33.33" text-anchor="end" fill="#000" >300</text>
<text transform="translate(883.37 746.69) scale(1 1.045)" font-size="33.33" text-anchor="end" fill="#000" >400</text>
<text transform="translate(883.37 1101.30) scale(1 1.045)" font-size="33.33" text-anchor="end" fill="#000" >0</text>
<text transform="translate(769.00 958.87) rotate(-90) scale(1 1.02)" font-size="33.33" fill="#111" >OCR</text>
<text transform="translate(808.00 1134.46) rotate(-90) scale(1 1.02)" font-size="33.33" fill="#111" >(pmoles / min / 250K cells)</text>
<rect x="903.10" y="1020.50" width="40.80" height="76.50" fill="#fff" stroke="#000" stroke-width="3.0" stroke-linejoin="miter"/>
<rect x="946.90" y="937.90" width="41.00" height="159.10" fill="#9e9ea0" stroke="#000" stroke-width="3.0" stroke-linejoin="miter"/>
<line x1="945.40" y1="1019.00" x2="945.40" y2="1097.00" stroke="#000" stroke-width="1.2" stroke-linecap="butt" />
<line x1="923.00" y1="1013.00" x2="923.00" y2="1020.00" stroke="#000" stroke-width="2.8" stroke-linecap="butt" />
<line x1="918.15" y1="1013.00" x2="927.85" y2="1013.00" stroke="#000" stroke-width="2.8" stroke-linecap="round" />
<line x1="966.90" y1="929.00" x2="966.90" y2="937.40" stroke="#000" stroke-width="2.8" stroke-linecap="butt" />
<line x1="962.05" y1="929.00" x2="971.75" y2="929.00" stroke="#000" stroke-width="2.8" stroke-linecap="round" />
<line x1="885.90" y1="1097.00" x2="1000.50" y2="1097.00" stroke="#000" stroke-width="3" stroke-linecap="round" />
<rect x="1057.90" y="1053.10" width="40.60" height="43.90" fill="#fff" stroke="#000" stroke-width="3.0" stroke-linejoin="miter"/>
<rect x="1101.50" y="997.50" width="40.60" height="99.50" fill="#9e9ea0" stroke="#000" stroke-width="3.0" stroke-linejoin="miter"/>
<line x1="1100.00" y1="1051.60" x2="1100.00" y2="1097.00" stroke="#000" stroke-width="1.2" stroke-linecap="butt" />
<line x1="1077.70" y1="1047.90" x2="1077.70" y2="1052.60" stroke="#000" stroke-width="2.8" stroke-linecap="butt" />
<line x1="1072.85" y1="1047.90" x2="1082.55" y2="1047.90" stroke="#000" stroke-width="2.8" stroke-linecap="round" />
<line x1="1121.30" y1="988.50" x2="1121.30" y2="997.00" stroke="#000" stroke-width="2.8" stroke-linecap="butt" />
<line x1="1116.45" y1="988.50" x2="1126.15" y2="988.50" stroke="#000" stroke-width="2.8" stroke-linecap="round" />
<line x1="1045.10" y1="1097.00" x2="1154.50" y2="1097.00" stroke="#000" stroke-width="3" stroke-linecap="round" />
<rect x="1210.10" y="1010.50" width="40.80" height="86.50" fill="#fff" stroke="#000" stroke-width="3.0" stroke-linejoin="miter"/>
<rect x="1253.90" y="820.50" width="40.60" height="276.50" fill="#9e9ea0" stroke="#000" stroke-width="3.0" stroke-linejoin="miter"/>
<line x1="1252.40" y1="1009.00" x2="1252.40" y2="1097.00" stroke="#000" stroke-width="1.2" stroke-linecap="butt" />
<line x1="1230.00" y1="998.70" x2="1230.00" y2="1010.00" stroke="#000" stroke-width="2.8" stroke-linecap="butt" />
<line x1="1225.15" y1="998.70" x2="1234.85" y2="998.70" stroke="#000" stroke-width="2.8" stroke-linecap="round" />
<line x1="1273.70" y1="799.10" x2="1273.70" y2="820.00" stroke="#000" stroke-width="2.8" stroke-linecap="butt" />
<line x1="1268.85" y1="799.10" x2="1278.55" y2="799.10" stroke="#000" stroke-width="2.8" stroke-linecap="round" />
<line x1="1197.50" y1="1097.00" x2="1307.10" y2="1097.00" stroke="#000" stroke-width="3" stroke-linecap="round" />
<rect x="1366.90" y="1064.50" width="40.60" height="31.30" fill="#fff" stroke="#000" stroke-width="3.0" stroke-linejoin="miter"/>
<rect x="1410.50" y="1040.50" width="40.60" height="55.30" fill="#9e9ea0" stroke="#000" stroke-width="3.0" stroke-linejoin="miter"/>
<line x1="1409.00" y1="1063.00" x2="1409.00" y2="1095.80" stroke="#000" stroke-width="1.2" stroke-linecap="butt" />
<line x1="1386.70" y1="1059.30" x2="1386.70" y2="1064.00" stroke="#000" stroke-width="2.8" stroke-linecap="butt" />
<line x1="1381.85" y1="1059.30" x2="1391.55" y2="1059.30" stroke="#000" stroke-width="2.8" stroke-linecap="round" />
<line x1="1430.30" y1="1037.50" x2="1430.30" y2="1040.00" stroke="#000" stroke-width="2.8" stroke-linecap="butt" />
<line x1="1425.45" y1="1037.50" x2="1435.15" y2="1037.50" stroke="#000" stroke-width="2.8" stroke-linecap="round" />
<line x1="1354.50" y1="1095.80" x2="1464.10" y2="1095.80" stroke="#000" stroke-width="3" stroke-linecap="round" />
<rect x="1521.50" y="1088.10" width="41.00" height="8.90" fill="#fff" stroke="#000" stroke-width="3.0" stroke-linejoin="miter"/>
<rect x="1565.50" y="981.10" width="40.40" height="115.90" fill="#9e9ea0" stroke="#000" stroke-width="3.0" stroke-linejoin="miter"/>
<line x1="1564.00" y1="1086.60" x2="1564.00" y2="1097.00" stroke="#000" stroke-width="1.2" stroke-linecap="butt" />
<line x1="1541.50" y1="1080.50" x2="1541.50" y2="1087.60" stroke="#000" stroke-width="2.8" stroke-linecap="butt" />
<line x1="1536.65" y1="1080.50" x2="1546.35" y2="1080.50" stroke="#000" stroke-width="2.8" stroke-linecap="round" />
<line x1="1585.20" y1="959.50" x2="1585.20" y2="980.60" stroke="#000" stroke-width="2.8" stroke-linecap="butt" />
<line x1="1580.35" y1="959.50" x2="1590.05" y2="959.50" stroke="#000" stroke-width="2.8" stroke-linecap="round" />
<line x1="1509.10" y1="1097.00" x2="1618.50" y2="1097.00" stroke="#000" stroke-width="3" stroke-linecap="round" />
<text transform="translate(913.58 919.70) scale(1 1.036)" font-size="41.50" text-anchor="start" fill="#111" letter-spacing="2.05">****</text>
<text transform="translate(1094.58 983.70) scale(1 1.036)" font-size="41.50" text-anchor="start" fill="#111" letter-spacing="2.05">***</text>
<text transform="translate(1237.58 791.70) scale(1 1.036)" font-size="41.50" text-anchor="start" fill="#111" letter-spacing="2.05">****</text>
<text transform="translate(1403.18 1032.70) scale(1 1.036)" font-size="41.50" text-anchor="start" fill="#111" letter-spacing="2.05">***</text>
<text transform="translate(1565.58 952.70) scale(1 1.036)" font-size="41.50" text-anchor="start" fill="#111" letter-spacing="2.05">**</text>
<text transform="translate(903.42 1141.60) scale(1 1.02)" font-size="26.67" text-anchor="start" fill="#111" textLength="71.1" lengthAdjust="spacing">Basal</text>
<text transform="translate(873.44 1173.90) scale(1 1.02)" font-size="26.67" text-anchor="start" fill="#111" textLength="137.8" lengthAdjust="spacing">respiration</text>
<text transform="translate(1032.62 1141.60) scale(1 1.02)" font-size="26.67" text-anchor="start" fill="#111" textLength="146.6" lengthAdjust="spacing">Respiration</text>
<text transform="translate(1050.94 1173.90) scale(1 1.02)" font-size="26.67" text-anchor="start" fill="#111" textLength="109.7" lengthAdjust="spacing">linked to</text>
<text transform="translate(1019.14 1206.20) scale(1 1.02)" font-size="26.67" text-anchor="start" fill="#111" textLength="180.6" lengthAdjust="spacing">ATP synthesis</text>
<text transform="translate(1208.02 1141.60) scale(1 1.02)" font-size="26.67" text-anchor="start" fill="#111" textLength="111.0" lengthAdjust="spacing">Maximal</text>
<text transform="translate(1195.04 1173.90) scale(1 1.02)" font-size="26.67" text-anchor="start" fill="#111" textLength="137.2" lengthAdjust="spacing">respiration</text>
<text transform="translate(1368.62 1141.60) scale(1 1.02)" font-size="26.67" text-anchor="start" fill="#111" textLength="85.6" lengthAdjust="spacing">Proton</text>
<text transform="translate(1385.02 1173.90) scale(1 1.02)" font-size="26.67" text-anchor="start" fill="#111" textLength="59.6" lengthAdjust="spacing">Leak</text>
<text transform="translate(1532.03 1141.60) scale(1 1.02)" font-size="26.67" text-anchor="start" fill="#111" textLength="72.5" lengthAdjust="spacing">Spare</text>
<text transform="translate(1498.44 1173.90) scale(1 1.02)" font-size="26.67" text-anchor="start" fill="#111" textLength="138.3" lengthAdjust="spacing">respiratory</text>
<text transform="translate(1518.76 1206.20) scale(1 1.02)" font-size="26.67" text-anchor="start" fill="#111" textLength="105.0" lengthAdjust="spacing">capacity</text>
<rect x="1281.10" y="1293.10" width="22.00" height="23.00" fill="#fff" stroke="#000" stroke-width="3"/>
<rect x="1280.50" y="1345.50" width="22.00" height="23.00" fill="#9e9ea0" stroke="#000" stroke-width="3"/>
<text transform="translate(1332.13 1315.00) scale(1 1.04)" font-size="33.33" text-anchor="start" fill="#111" >Cpt1mt</text>
<text transform="translate(1447.38 1303.40) scale(1 1.02)" font-size="18.50" text-anchor="start" fill="#111" >fl/fl</text>
<text transform="translate(1487.00 1315.00) scale(1 1.02)" font-size="33.33" text-anchor="start" fill="#111" >chow</text>
<text transform="translate(1335.47 1367.00) scale(1 1.04)" font-size="33.33" text-anchor="start" fill="#111" >iCPT1mt</text>
<text transform="translate(1489.10 1367.00) scale(1 1.02)" font-size="33.33" text-anchor="start" fill="#111" >chow</text>
</svg>
</body></html>
